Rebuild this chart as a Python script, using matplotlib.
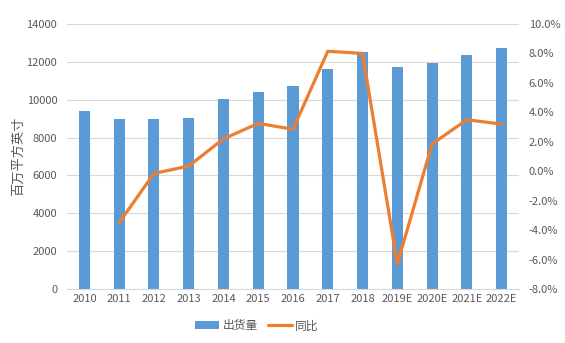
import numpy as np
import matplotlib.pyplot as plt
from matplotlib.ticker import FuncFormatter

plt.rcParams['font.family'] = ['Noto Sans CJK SC', 'DejaVu Sans']

years = ['2010', '2011', '2012', '2013', '2014', '2015', '2016', '2017', '2018',
         '2019E', '2020E', '2021E', '2022E']
shipments = [9400, 9000, 9000, 9050, 10050, 10430, 10700, 11600, 12520,
             11750, 11950, 12380, 12730]
yoy = [np.nan, -3.5, -0.15, 0.35, 2.2, 3.25, 2.85, 8.15, 8.0,
       -6.3, 1.85, 3.5, 3.2]

bar_color = '#5B9BD5'
line_color = '#ED7D31'
text_color = '#595959'
grid_color = '#D9D9D9'

fig = plt.figure(figsize=(5.65, 3.43), dpi=100)
ax = fig.add_axes([0.1186, 0.1574, 0.80, 0.7726])
x = np.arange(len(years))

bars = ax.bar(x, shipments, width=0.32, color=bar_color, zorder=2, label='出货量')
ax.set_ylim(0, 14000)
ax.set_yticks(np.arange(0, 14001, 2000))
ax.set_xlim(-0.5, len(years) - 0.5)
ax.set_xticks(x)
ax.set_xticklabels(years)
ax.grid(axis='y', color=grid_color, linewidth=0.8, zorder=0)
ax.set_ylabel('百万平方英寸', color=text_color, fontsize=9.5)
ax.yaxis.set_label_coords(-0.092, 0.5)

ax2 = ax.twinx()
line, = ax2.plot(x, yoy, color=line_color, linewidth=2.3, zorder=3, label='同比',
                 solid_capstyle='round', solid_joinstyle='round')
ax2.set_ylim(-8, 10)
ax2.set_yticks(np.arange(-8, 10.01, 2))
ax2.yaxis.set_major_formatter(FuncFormatter(lambda v, p: f'{v:.1f}%'))

for a in (ax, ax2):
    for s in a.spines.values():
        s.set_visible(False)
    a.tick_params(length=0, colors=text_color, labelsize=8)
ax.spines['bottom'].set_visible(True)
ax.spines['bottom'].set_color(grid_color)
ax.tick_params(axis='y', pad=7)
ax2.tick_params(axis='y', pad=7)

fig.legend([bars, line], ['出货量', '同比'], loc='lower center', ncol=2,
           bbox_to_anchor=(0.455, 0.0), frameon=False, fontsize=8.5,
           labelcolor=text_color, handlelength=2.0, handletextpad=0.3,
           columnspacing=0.9)

fig.savefig('out.png', dpi=100)
